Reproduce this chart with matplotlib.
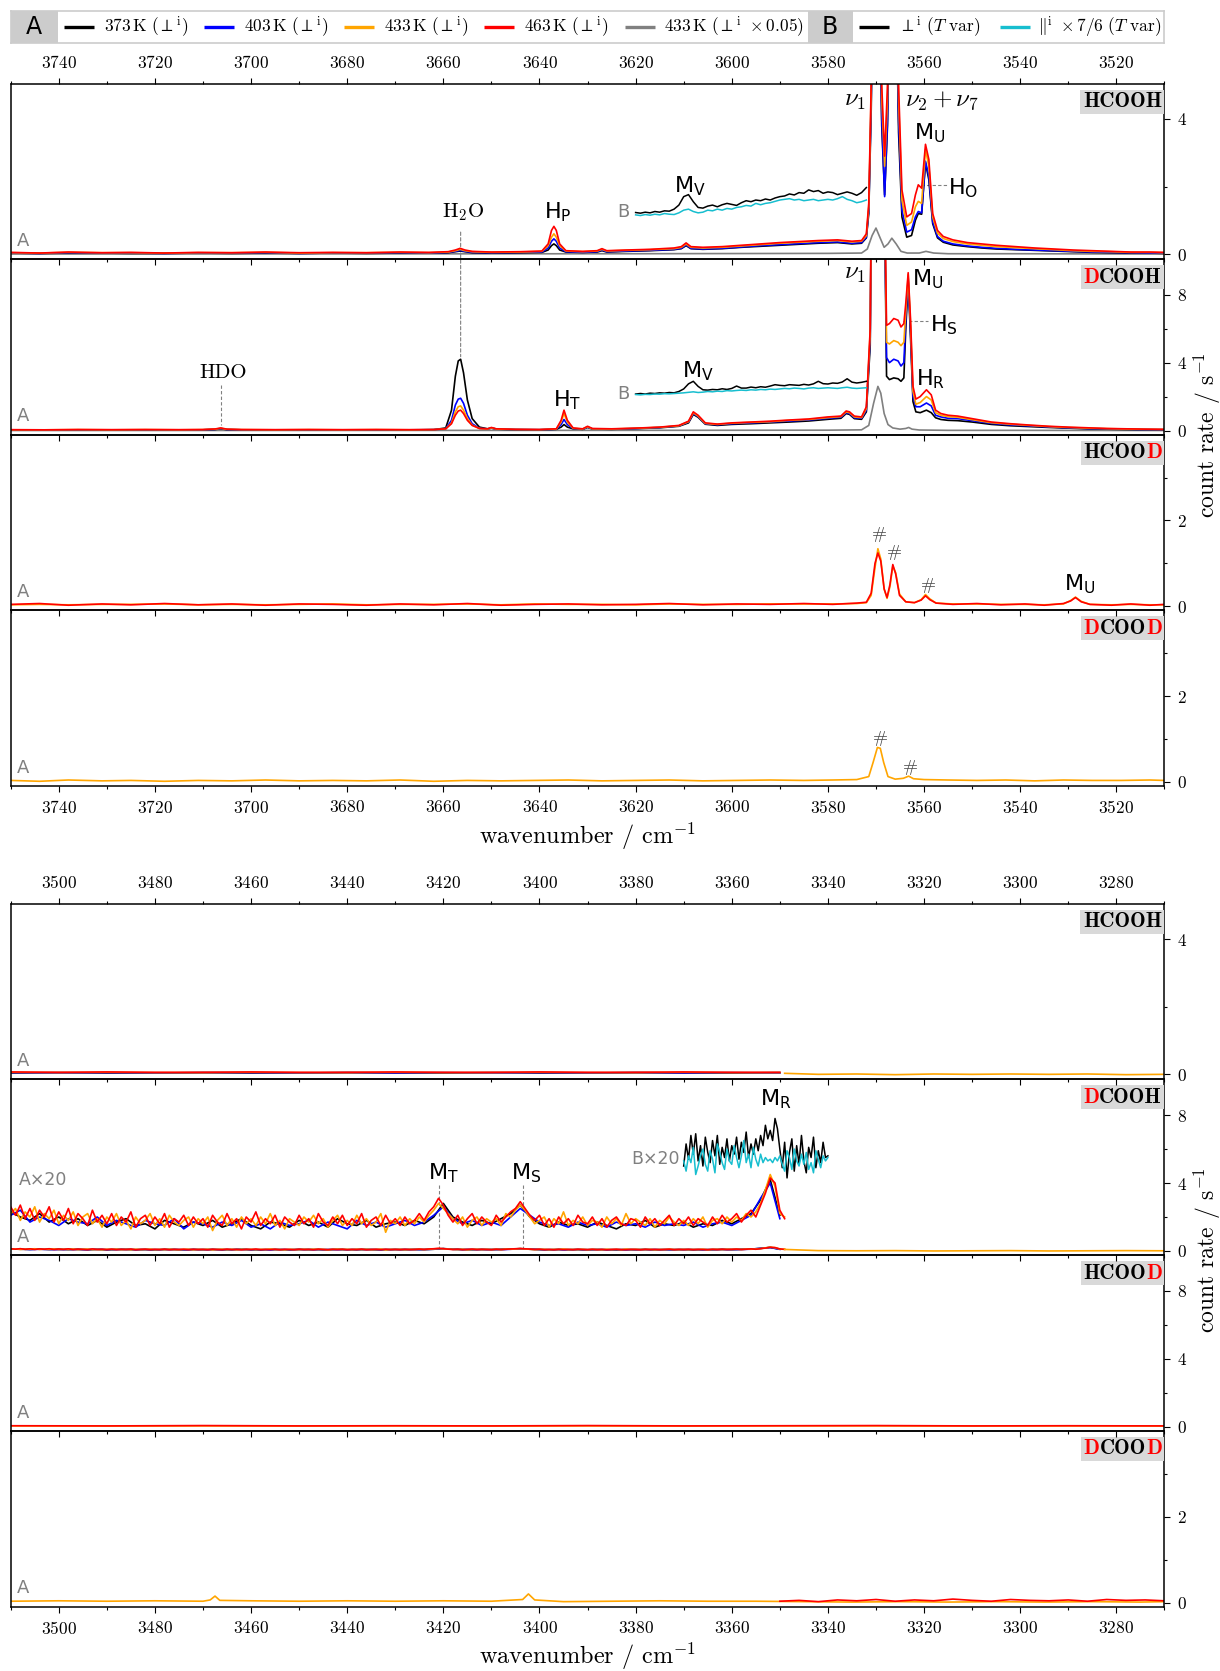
import numpy as np
import matplotlib
matplotlib.use("Agg")
import matplotlib.pyplot as plt
from matplotlib.patches import Rectangle, ConnectionPatch
from matplotlib.ticker import FixedLocator, MultipleLocator
from matplotlib.offsetbox import AnchoredOffsetbox, HPacker, TextArea

plt.rcParams["font.family"] = "cmr10"
plt.rcParams["mathtext.fontset"] = "cm"
plt.rcParams["axes.formatter.use_mathtext"] = True

FIG_W, FIG_H = 1220, 1671

C373 = "#000000"
C403 = "#0000ff"
C433 = "#ffa500"
C463 = "#ff0000"
CGRAY = "#808080"
CPAR = "#17becf"
LW = 1.2

# ---------------- upper range, 3750-3510 cm-1 ----------------
G1_HCOOH_X = [3750, 3744, 3738, 3731, 3725, 3718, 3711, 3704, 3697, 3690,
              3683, 3676, 3669, 3663, 3659, 3657.5, 3656.5, 3655.5, 3654, 3650,
              3644, 3639.5, 3638.2, 3637.5, 3637, 3636.5, 3635.8, 3634.5, 3631, 3628,
              3627, 3626, 3622, 3617, 3612, 3610.5, 3609.5, 3608.5, 3606, 3602,
              3598, 3594, 3590, 3586, 3582, 3578, 3575, 3573, 3572, 3571.5,
              3571, 3570.3, 3569.5, 3568.8, 3568.2, 3567.6, 3567, 3566, 3565.3, 3564.6,
              3563.6, 3562.6, 3561.8, 3561.2, 3560.5, 3559.7, 3559, 3558.2, 3557.2, 3556,
              3554, 3551, 3548, 3545, 3541, 3537, 3533, 3529, 3525, 3521,
              3517, 3513, 3510]
G1_HCOOH_463 = [0.05, 0.03, 0.06, 0.04, 0.05, 0.03, 0.05, 0.04, 0.06, 0.04,
                0.05, 0.04, 0.06, 0.05, 0.07, 0.12, 0.17, 0.12, 0.08, 0.06,
                0.07, 0.09, 0.3, 0.7, 0.82, 0.7, 0.3, 0.1, 0.08, 0.1,
                0.16, 0.1, 0.12, 0.14, 0.18, 0.22, 0.33, 0.22, 0.2, 0.22,
                0.26, 0.3, 0.34, 0.37, 0.4, 0.42, 0.38, 0.4, 0.6, 1.5,
                5.0, 14.0, 12.0, 5.0, 2.9, 5.0, 11.0, 12.0, 5.0, 1.9,
                1.1, 1.2, 1.75, 2.05, 1.95, 3.25, 2.8, 1.2, 0.7, 0.52,
                0.42, 0.34, 0.3, 0.26, 0.22, 0.18, 0.15, 0.12, 0.1, 0.08,
                0.06, 0.06, 0.05]
G1_HCOOH_433 = [0.04, 0.03, 0.05, 0.04, 0.04, 0.03, 0.04, 0.04, 0.05, 0.03,
                0.04, 0.04, 0.05, 0.04, 0.06, 0.1, 0.14, 0.1, 0.07, 0.05,
                0.06, 0.08, 0.25, 0.5, 0.6, 0.5, 0.25, 0.09, 0.07, 0.09,
                0.14, 0.09, 0.11, 0.13, 0.16, 0.2, 0.3, 0.2, 0.18, 0.2,
                0.24, 0.28, 0.32, 0.35, 0.38, 0.4, 0.36, 0.38, 0.55, 1.4,
                4.8, 13.0, 11.0, 4.6, 2.6, 4.6, 10.5, 11.0, 4.6, 1.6,
                0.85, 0.95, 1.4, 1.56, 1.5, 3.1, 2.6, 1.1, 0.62, 0.46,
                0.37, 0.3, 0.26, 0.22, 0.19, 0.16, 0.13, 0.1, 0.08, 0.07,
                0.05, 0.05, 0.04]
G1_HCOOH_403 = [0.03, 0.02, 0.04, 0.03, 0.03, 0.02, 0.03, 0.03, 0.04, 0.02,
                0.03, 0.03, 0.04, 0.03, 0.05, 0.08, 0.11, 0.08, 0.05, 0.04,
                0.05, 0.06, 0.18, 0.38, 0.45, 0.38, 0.18, 0.07, 0.05, 0.07,
                0.12, 0.07, 0.09, 0.11, 0.14, 0.17, 0.27, 0.17, 0.15, 0.17,
                0.21, 0.25, 0.28, 0.31, 0.34, 0.36, 0.32, 0.34, 0.5, 1.3,
                4.5, 12.0, 10.0, 4.0, 1.7, 4.0, 10.0, 10.0, 4.0, 1.3,
                0.65, 0.72, 1.1, 1.26, 1.22, 2.75, 2.3, 0.95, 0.52, 0.38,
                0.3, 0.24, 0.2, 0.17, 0.14, 0.12, 0.1, 0.08, 0.06, 0.05,
                0.04, 0.03, 0.03]
G1_HCOOH_373 = [0.03, 0.02, 0.03, 0.03, 0.02, 0.02, 0.03, 0.02, 0.03, 0.02,
                0.03, 0.02, 0.03, 0.03, 0.04, 0.07, 0.09, 0.07, 0.04, 0.03,
                0.04, 0.05, 0.12, 0.25, 0.3, 0.25, 0.12, 0.06, 0.05, 0.06,
                0.1, 0.06, 0.08, 0.1, 0.13, 0.16, 0.25, 0.16, 0.14, 0.16,
                0.2, 0.23, 0.26, 0.29, 0.32, 0.34, 0.3, 0.32, 0.48, 1.2,
                4.2, 11.0, 9.5, 3.8, 1.75, 3.8, 9.5, 9.5, 3.6, 1.1,
                0.5, 0.55, 1.0, 1.2, 1.18, 2.7, 2.2, 0.9, 0.48, 0.35,
                0.27, 0.22, 0.18, 0.15, 0.13, 0.11, 0.09, 0.07, 0.05, 0.04,
                0.03, 0.03, 0.02]
G1_HCOOH_GRAY_X = [3750, 3620, 3580, 3573, 3571.8, 3570.8, 3570, 3569.2, 3568.3, 3567.5,
                   3566.7, 3565.8, 3564.8, 3563.5, 3561, 3559.6, 3558, 3555, 3540, 3510]
G1_HCOOH_GRAY = [0.0, 0.01, 0.02, 0.03, 0.15, 0.55, 0.77, 0.5, 0.2, 0.3,
                 0.47, 0.3, 0.08, 0.03, 0.03, 0.08, 0.03, 0.01, 0.01, 0.0]

B_X = [3620 - k for k in range(49)]
G1_HCOOH_B_PERP = [1.23, 1.21, 1.24, 1.22, 1.26, 1.24, 1.28, 1.27, 1.33, 1.45,
                   1.7, 1.76, 1.55, 1.38, 1.36, 1.42, 1.45, 1.4, 1.46, 1.5,
                   1.47, 1.44, 1.52, 1.58, 1.55, 1.6, 1.58, 1.63, 1.6, 1.66,
                   1.7, 1.72, 1.78, 1.75, 1.82, 1.8, 1.9, 1.85, 1.88, 1.8,
                   1.84, 1.82, 1.76, 1.8, 1.84, 1.8, 1.74, 1.82, 1.97]
G1_HCOOH_B_PAR = [1.16, 1.14, 1.17, 1.15, 1.18, 1.16, 1.2, 1.18, 1.17, 1.22,
                  1.3, 1.33, 1.26, 1.22, 1.24, 1.3, 1.28, 1.33, 1.3, 1.35,
                  1.33, 1.38, 1.4, 1.44, 1.42, 1.5, 1.46, 1.5, 1.52, 1.56,
                  1.6, 1.62, 1.64, 1.6, 1.62, 1.58, 1.6, 1.62, 1.58, 1.6,
                  1.62, 1.6, 1.64, 1.7, 1.62, 1.58, 1.52, 1.55, 1.6]

G1_DCOOH_X = [3750, 3743, 3736, 3729, 3722, 3715, 3710, 3707.5, 3706.3, 3705,
              3702, 3695, 3688, 3681, 3674, 3667, 3662, 3659.5, 3658.3, 3657.5,
              3656.9, 3656.4, 3655.8, 3655, 3654, 3652.5, 3650.8, 3650, 3649, 3645,
              3640, 3636.5, 3635.5, 3634.9, 3634.2, 3633, 3631, 3630, 3629, 3625,
              3620, 3615, 3611, 3609, 3608, 3607, 3605.5, 3603, 3600, 3596,
              3592, 3588, 3584, 3580, 3577.3, 3576.2, 3575.5, 3574.5, 3573, 3572,
              3571.2, 3570.5, 3569.5, 3568.5, 3567.8, 3567.2, 3566.3, 3565.4, 3564.8, 3564.2,
              3563.8, 3563.3, 3562.8, 3562.3, 3561.7, 3560.8, 3559.5, 3558.5, 3557.6, 3556.5,
              3555, 3553, 3550, 3546, 3542, 3538, 3534, 3530, 3526, 3522,
              3518, 3514, 3510]
G1_DCOOH_463 = [0.05, 0.04, 0.06, 0.05, 0.06, 0.05, 0.06, 0.09, 0.15, 0.08,
                0.06, 0.05, 0.06, 0.05, 0.06, 0.05, 0.06, 0.1, 0.4, 0.9,
                1.15, 1.2, 1.0, 0.6, 0.3, 0.12, 0.1, 0.18, 0.1, 0.07,
                0.06, 0.1, 0.6, 1.2, 0.6, 0.15, 0.1, 0.25, 0.12, 0.1,
                0.14, 0.2, 0.3, 0.55, 1.1, 0.9, 0.45, 0.38, 0.45, 0.5,
                0.55, 0.62, 0.68, 0.8, 0.85, 1.15, 1.1, 0.85, 0.8, 1.4,
                6.0, 30.0, 40.0, 20.0, 6.2, 6.3, 6.6, 6.5, 6.1, 6.3,
                7.5, 9.3, 6.5, 2.6, 1.85, 2.0, 2.4, 2.1, 1.2, 1.0,
                0.9, 0.85, 0.7, 0.5, 0.4, 0.32, 0.25, 0.2, 0.16, 0.12,
                0.1, 0.08, 0.07]
G1_DCOOH_433 = [0.04, 0.04, 0.05, 0.04, 0.05, 0.04, 0.05, 0.08, 0.13, 0.07,
                0.05, 0.04, 0.05, 0.04, 0.05, 0.04, 0.05, 0.1, 0.45, 1.1,
                1.4, 1.45, 1.2, 0.7, 0.32, 0.12, 0.09, 0.16, 0.09, 0.06,
                0.05, 0.09, 0.5, 1.0, 0.5, 0.13, 0.09, 0.22, 0.1, 0.09,
                0.13, 0.19, 0.28, 0.52, 1.05, 0.85, 0.42, 0.36, 0.43, 0.48,
                0.52, 0.6, 0.65, 0.76, 0.82, 1.1, 1.05, 0.8, 0.76, 1.3,
                5.8, 30.0, 40.0, 20.0, 5.2, 5.1, 5.3, 5.2, 5.0, 5.2,
                7.0, 9.2, 6.2, 2.3, 1.55, 1.65, 2.0, 1.8, 1.05, 0.9,
                0.82, 0.78, 0.64, 0.46, 0.37, 0.3, 0.23, 0.18, 0.14, 0.11,
                0.09, 0.07, 0.06]
G1_DCOOH_403 = [0.04, 0.03, 0.04, 0.04, 0.04, 0.03, 0.04, 0.07, 0.12, 0.06,
                0.04, 0.04, 0.04, 0.03, 0.04, 0.04, 0.05, 0.1, 0.6, 1.5,
                1.85, 1.9, 1.6, 0.9, 0.4, 0.13, 0.09, 0.15, 0.09, 0.06,
                0.05, 0.08, 0.35, 0.65, 0.35, 0.12, 0.08, 0.2, 0.1, 0.08,
                0.12, 0.18, 0.27, 0.5, 1.0, 0.82, 0.4, 0.34, 0.4, 0.45,
                0.5, 0.56, 0.62, 0.72, 0.78, 1.05, 1.0, 0.75, 0.72, 1.2,
                5.5, 30.0, 40.0, 20.0, 4.3, 4.0, 4.2, 4.1, 3.8, 4.0,
                6.5, 9.0, 5.8, 2.0, 1.4, 1.4, 1.62, 1.45, 0.9, 0.8,
                0.72, 0.7, 0.58, 0.42, 0.33, 0.27, 0.21, 0.16, 0.12, 0.1,
                0.08, 0.06, 0.05]
G1_DCOOH_373 = [0.03, 0.03, 0.04, 0.03, 0.04, 0.03, 0.04, 0.06, 0.1, 0.05,
                0.04, 0.03, 0.04, 0.03, 0.04, 0.03, 0.05, 0.15, 1.2, 3.2,
                4.1, 4.2, 3.4, 1.8, 0.7, 0.2, 0.1, 0.14, 0.08, 0.05,
                0.04, 0.07, 0.2, 0.35, 0.2, 0.1, 0.07, 0.18, 0.09, 0.07,
                0.11, 0.16, 0.25, 0.45, 0.95, 0.78, 0.37, 0.3, 0.36, 0.4,
                0.45, 0.5, 0.56, 0.66, 0.72, 1.0, 0.95, 0.7, 0.66, 1.1,
                5.0, 30.0, 40.0, 20.0, 3.2, 3.0, 3.1, 3.05, 2.9, 3.1,
                6.0, 8.8, 5.4, 1.7, 1.1, 1.05, 1.2, 1.05, 0.75, 0.65,
                0.6, 0.58, 0.5, 0.36, 0.28, 0.23, 0.18, 0.14, 0.1, 0.08,
                0.06, 0.05, 0.04]
G1_DCOOH_GRAY_X = [3750, 3620, 3580, 3573, 3571.5, 3570.5, 3569.6, 3569, 3568.3, 3567.5,
                   3566.5, 3565, 3563.8, 3563.2, 3562.5, 3561, 3555, 3540, 3510]
G1_DCOOH_GRAY = [0.0, 0.01, 0.02, 0.04, 0.3, 1.6, 2.6, 2.2, 1.0, 0.35,
                 0.15, 0.08, 0.12, 0.18, 0.08, 0.03, 0.01, 0.01, 0.0]
G1_DCOOH_B_PERP = [2.15, 2.18, 2.15, 2.2, 2.18, 2.22, 2.2, 2.24, 2.22, 2.3,
                   2.45, 2.75, 2.9, 2.6, 2.4, 2.38, 2.42, 2.4, 2.46, 2.42,
                   2.48, 2.62, 2.5, 2.5, 2.56, 2.52, 2.58, 2.55, 2.62, 2.7,
                   2.66, 2.64, 2.7, 2.68, 2.66, 2.72, 2.68, 2.75, 2.9, 2.76,
                   2.74, 2.8, 2.78, 2.86, 3.05, 2.85, 2.8, 2.84, 2.9]
G1_DCOOH_B_PAR = [2.12, 2.1, 2.13, 2.12, 2.15, 2.14, 2.17, 2.16, 2.18, 2.2,
                  2.22, 2.25, 2.28, 2.24, 2.26, 2.3, 2.28, 2.32, 2.3, 2.35,
                  2.33, 2.36, 2.38, 2.36, 2.4, 2.38, 2.42, 2.4, 2.44, 2.42,
                  2.45, 2.48, 2.46, 2.5, 2.48, 2.45, 2.5, 2.52, 2.48, 2.5,
                  2.52, 2.5, 2.48, 2.52, 2.55, 2.5, 2.48, 2.5, 2.52]

G1_HCOOD_X = [3750, 3744, 3738, 3731, 3725, 3718, 3711, 3704, 3697, 3690,
              3683, 3676, 3669, 3662, 3655, 3648, 3641, 3634, 3627, 3620,
              3613, 3606, 3599, 3592, 3585, 3579, 3574, 3572, 3571, 3570.2,
              3569.6, 3569, 3568.3, 3567.7, 3567.1, 3566.5, 3565.9, 3565.1, 3563.8, 3562,
              3560.6, 3559.7, 3558.8, 3557.5, 3554, 3549, 3544, 3539, 3535, 3531,
              3529.5, 3528.5, 3527.3, 3525.5, 3521, 3517, 3513, 3510]
G1_HCOOD_463 = [0.04, 0.06, 0.02, 0.05, 0.03, 0.06, 0.03, 0.05, 0.02, 0.05,
                0.04, 0.02, 0.05, 0.03, 0.06, 0.02, 0.04, 0.05, 0.03, 0.04,
                0.06, 0.03, 0.05, 0.04, 0.06, 0.04, 0.07, 0.09, 0.3, 1.0,
                1.24, 1.05, 0.4, 0.2, 0.5, 0.97, 0.75, 0.25, 0.1, 0.08,
                0.14, 0.24, 0.15, 0.07, 0.04, 0.06, 0.03, 0.05, 0.02, 0.06,
                0.12, 0.2, 0.1, 0.04, 0.02, 0.05, 0.02, 0.04]
G1_HCOOD_433 = [0.03, 0.04, 0.03, 0.04, 0.04, 0.05, 0.03, 0.04, 0.03, 0.04,
                0.05, 0.03, 0.04, 0.04, 0.05, 0.03, 0.05, 0.04, 0.04, 0.03,
                0.05, 0.04, 0.04, 0.05, 0.05, 0.05, 0.06, 0.08, 0.25, 0.9,
                1.34, 1.1, 0.4, 0.18, 0.45, 0.93, 0.78, 0.28, 0.1, 0.08,
                0.15, 0.27, 0.17, 0.07, 0.05, 0.05, 0.04, 0.04, 0.03, 0.05,
                0.13, 0.21, 0.11, 0.04, 0.03, 0.04, 0.03, 0.03]

G1_DCOOD_X = [3750, 3744, 3738, 3731, 3725, 3718, 3711, 3704, 3697, 3690,
              3683, 3676, 3669, 3662, 3655, 3648, 3641, 3634, 3627, 3620,
              3613, 3606, 3599, 3592, 3585, 3579, 3574, 3571.5, 3570.6, 3569.7,
              3569.1, 3568.4, 3567.5, 3566, 3564.3, 3563.2, 3562.2, 3560, 3555, 3549,
              3543, 3537, 3531, 3525, 3519, 3513, 3510]
G1_DCOOD_433 = [0.03, 0.01, 0.04, 0.02, 0.03, 0.01, 0.03, 0.02, 0.04, 0.02,
                0.03, 0.02, 0.04, 0.01, 0.03, 0.02, 0.03, 0.04, 0.02, 0.03,
                0.04, 0.02, 0.03, 0.04, 0.03, 0.04, 0.05, 0.12, 0.45, 0.8,
                0.78, 0.45, 0.12, 0.06, 0.08, 0.13, 0.07, 0.05, 0.04, 0.03,
                0.04, 0.02, 0.04, 0.03, 0.03, 0.04, 0.03]

# ---------------- lower range, 3510-3270 cm-1 ----------------
G2_X = [3510, 3500, 3490, 3480, 3470, 3460, 3450, 3440, 3430, 3420,
        3410, 3400, 3390, 3380, 3370, 3360, 3350]
G2_HCOOH_463 = [0.07, 0.06, 0.07, 0.06, 0.06, 0.07, 0.06, 0.06, 0.07, 0.06,
                0.06, 0.07, 0.06, 0.06, 0.07, 0.06, 0.06]
G2_HCOOH_433 = [0.06, 0.05, 0.06, 0.05, 0.05, 0.06, 0.05, 0.05, 0.06, 0.05,
                0.05, 0.06, 0.05, 0.05, 0.06, 0.05, 0.05]
G2_HCOOH_403 = [0.05, 0.04, 0.05, 0.04, 0.05, 0.05, 0.04, 0.05, 0.04, 0.05,
                0.04, 0.05, 0.04, 0.05, 0.04, 0.05, 0.04]
G2_HCOOH_373 = [0.04, 0.05, 0.04, 0.04, 0.05, 0.04, 0.04, 0.05, 0.04, 0.04,
                0.05, 0.04, 0.04, 0.05, 0.04, 0.04, 0.05]
G2_TAIL_X = [3349, 3342, 3334, 3326, 3318, 3310, 3302, 3294, 3286, 3278, 3270]
G2_HCOOH_433_TAIL = [0.03, 0.0, 0.01, -0.01, 0.01, 0.0, 0.01, 0.0, 0.01, -0.01, 0.0]
G2_DCOOH_433_TAIL = [0.09, 0.02, 0.01, 0.02, 0.0, 0.01, 0.02, 0.0, 0.01, 0.02, 0.01]

# DCOOH, A spectra times 20 (1 cm-1 and 2 cm-1 sampling)
X20_FINE = list(range(3510, 3348, -1))
X20_COARSE = list(range(3510, 3349, -2))
G2_DCOOH_463_X20 = [2.6, 2.1, 2.7, 1.9, 2.5, 1.8, 2.4, 2.0, 2.6, 1.7,
                    2.3, 1.8, 2.5, 1.6, 2.2, 1.9, 1.5, 2.4, 1.7, 2.1,
                    1.6, 2.2, 1.5, 2.0, 1.7, 2.3, 1.4, 1.9, 2.1, 1.5,
                    2.0, 1.6, 2.2, 1.4, 1.9, 1.7, 2.1, 1.5, 2.0, 1.6,
                    1.9, 1.4, 2.1, 1.7, 1.5, 2.2, 1.6, 1.9, 1.3, 2.0,
                    1.7, 2.3, 1.5, 1.9, 1.6, 2.1, 1.4, 2.0, 1.7, 1.5,
                    2.1, 1.6, 1.9, 1.4, 2.2, 1.7, 1.5, 2.0, 1.6, 2.1,
                    1.5, 1.9, 1.6, 2.2, 1.4, 1.8, 2.0, 1.5, 2.1, 1.6,
                    1.9, 1.5, 2.0, 1.6, 1.8, 2.2, 1.8, 2.3, 2.6, 3.1,
                    2.7, 2.1, 1.7, 2.1, 1.5, 1.9, 2.2, 1.6, 2.0, 1.7,
                    1.5, 2.1, 1.7, 2.0, 2.3, 2.5, 2.9, 2.5, 2.1, 1.8,
                    2.1, 1.5, 1.9, 1.4, 2.0, 1.6, 1.9, 1.5, 2.1, 1.7,
                    1.6, 2.0, 1.5, 1.9, 1.4, 1.8, 2.0, 1.6, 1.5, 1.9,
                    1.8, 1.4, 2.0, 1.6, 1.9, 1.5, 1.8, 2.1, 1.5, 1.9,
                    1.6, 2.0, 1.5, 1.9, 1.7, 1.5, 2.0, 1.6, 2.1, 1.7,
                    1.9, 2.2, 1.7, 2.1, 2.4, 2.0, 2.7, 3.4, 4.3, 4.0,
                    2.4, 1.9]
G2_DCOOH_433_X20 = [2.2, 2.5, 1.8, 2.3, 2.0, 2.6, 1.7, 2.2, 1.9, 2.4,
                    1.6, 2.1, 1.8, 2.3, 1.5, 2.0, 2.2, 1.6, 1.9, 1.4,
                    2.0, 1.7, 2.2, 1.5, 1.8, 1.3, 2.0, 1.6, 1.8, 2.2,
                    1.5, 1.9, 1.4, 2.1, 1.7, 1.5, 1.8, 2.0, 1.4, 1.9,
                    1.6, 2.0, 1.2, 1.8, 2.1, 1.5, 1.9, 1.4, 2.0, 1.6,
                    1.9, 1.5, 2.0, 1.6, 2.2, 1.5, 1.8, 1.3, 1.9, 1.7,
                    1.5, 2.0, 1.7, 2.1, 1.6, 1.9, 1.4, 1.8, 2.1, 1.5,
                    1.8, 1.5, 2.1, 1.6, 1.9, 1.5, 1.7, 2.2, 1.1, 1.8,
                    1.6, 2.0, 1.5, 1.9, 1.6, 2.0, 1.7, 2.1, 2.4, 2.8,
                    2.5, 2.2, 1.9, 1.6, 2.0, 1.4, 1.8, 2.0, 1.5, 1.9,
                    1.7, 1.9, 1.5, 2.2, 2.0, 2.4, 2.7, 2.4, 2.0, 1.6,
                    1.8, 2.0, 1.4, 1.9, 1.6, 2.3, 1.5, 1.8, 1.6, 2.0,
                    1.5, 1.8, 1.7, 1.4, 2.0, 1.6, 1.9, 1.5, 2.2, 1.6,
                    1.9, 1.7, 1.5, 1.9, 1.4, 1.8, 1.6, 2.0, 1.7, 1.5,
                    1.8, 1.5, 1.9, 1.6, 2.0, 1.4, 1.8, 1.9, 1.6, 2.0,
                    1.7, 2.0, 1.8, 2.2, 2.0, 2.3, 2.8, 3.6, 4.5, 3.8,
                    2.2, 2.0]
G2_DCOOH_403_X20 = [2.1, 2.4, 1.7, 2.0, 1.8, 1.5, 1.9, 1.7, 1.6, 2.0,
                    1.5, 1.8, 1.6, 1.4, 1.8, 1.6, 1.5, 1.9, 1.3, 1.7,
                    1.6, 1.4, 1.7, 1.5, 1.8, 1.4, 1.6, 1.3, 1.7, 1.5,
                    1.6, 1.8, 1.4, 1.7, 1.5, 1.3, 1.8, 1.5, 1.7, 1.4,
                    1.6, 1.8, 1.5, 1.7, 2.1, 2.6, 1.9, 1.6, 1.8, 1.5,
                    1.7, 1.5, 2.0, 2.5, 2.1, 1.7, 1.5, 1.6, 1.4, 1.7,
                    1.5, 1.6, 1.4, 1.7, 1.5, 1.6, 1.4, 1.7, 1.5, 1.6,
                    1.5, 1.7, 1.4, 1.6, 1.7, 1.5, 1.8, 2.1, 3.1, 4.0,
                    1.9]
G2_DCOOH_373_X20 = [2.3, 2.0, 1.8, 2.2, 1.7, 2.0, 1.6, 1.9, 1.5, 1.8,
                    1.4, 1.7, 1.9, 1.5, 1.6, 1.3, 1.8, 1.6, 1.4, 1.7,
                    1.5, 1.8, 1.4, 1.6, 1.9, 1.5, 1.3, 1.7, 1.6, 1.4,
                    1.8, 1.5, 1.7, 1.4, 1.9, 1.6, 1.5, 1.8, 1.4, 1.6,
                    1.7, 1.5, 1.8, 1.6, 2.0, 2.8, 2.0, 1.7, 1.5, 1.8,
                    1.6, 1.9, 2.2, 2.7, 2.0, 1.6, 1.4, 1.7, 1.5, 1.6,
                    1.4, 1.7, 1.5, 1.3, 1.6, 1.5, 1.8, 1.4, 1.6, 1.5,
                    1.7, 1.4, 1.6, 1.5, 1.8, 1.6, 1.9, 2.2, 3.0, 4.2,
                    2.1]

# DCOOH, B spectra times 20 (0.5 cm-1 sampling)
B20_X = [3370 - 0.5 * k for k in range(61)]
G2_DCOOH_B20_PERP = [5.0, 6.3, 5.4, 6.8, 5.7, 6.9, 5.3, 6.2, 5.0, 6.7,
                     5.8, 5.2, 6.5, 5.6, 6.8, 5.1, 6.1, 5.5, 6.6, 5.3,
                     6.2, 5.7, 6.7, 5.4, 6.4, 5.8, 7.0, 5.5, 6.3, 5.7,
                     6.6, 5.9, 6.8, 6.2, 7.4, 6.6, 7.1, 6.5, 7.8, 7.2,
                     6.0, 4.9, 6.4, 4.3, 5.8, 6.6, 4.7, 6.2, 5.1, 6.8,
                     5.3, 4.6, 6.1, 5.5, 6.7, 4.9, 5.9, 5.2, 6.4, 5.5,
                     5.6]
G2_DCOOH_B20_PAR = [5.3, 4.7, 5.6, 5.2, 6.1, 4.5, 5.0, 5.6, 6.0, 5.1,
                    4.7, 5.9, 5.4, 4.6, 6.3, 5.8, 5.2, 4.8, 6.0, 5.3,
                    5.1, 6.2, 5.5, 4.9, 5.6, 6.5, 5.2, 5.7, 4.9, 6.1,
                    5.4, 5.0, 5.7, 5.2, 5.5, 5.3, 5.4, 5.2, 5.5, 5.3,
                    5.6, 5.1, 4.7, 5.9, 5.5, 4.8, 6.0, 5.3, 5.0, 5.7,
                    5.1, 5.8, 4.8, 5.2, 4.6, 5.9, 5.4, 4.9, 5.6, 5.3,
                    5.5]

G2_HCOOD_X = [3510, 3490, 3470, 3450, 3430, 3410, 3390, 3370, 3350, 3330, 3310, 3290, 3270]
G2_HCOOD_463 = [0.06, 0.05, 0.07, 0.05, 0.06, 0.05, 0.07, 0.05, 0.06, 0.07, 0.05, 0.06, 0.05]
G2_HCOOD_433 = [0.05, 0.04, 0.05, 0.04, 0.05, 0.04, 0.05, 0.04, 0.05, 0.05, 0.04, 0.05, 0.04]

G2_DCOOD_433_X = [3510, 3500, 3490, 3480, 3470, 3468.5, 3467.5, 3466.5, 3460, 3450,
                  3440, 3430, 3420, 3410, 3403.5, 3402.3, 3401, 3395, 3385, 3375,
                  3365, 3355, 3345, 3335, 3325, 3315, 3305, 3295, 3285, 3275, 3270]
G2_DCOOD_433 = [0.03, 0.04, 0.03, 0.04, 0.03, 0.06, 0.15, 0.05, 0.04, 0.03,
                0.04, 0.03, 0.04, 0.03, 0.07, 0.2, 0.06, 0.02, 0.03, 0.04,
                0.03, 0.03, 0.02, 0.01, 0.02, 0.01, 0.02, 0.01, 0.02, 0.01, 0.02]
G2_DCOOD_463_X = [3350, 3346, 3342, 3338, 3334, 3330, 3326, 3322, 3318, 3314, 3310,
                  3306, 3302, 3298, 3294, 3290, 3286, 3282, 3278, 3274, 3270]
G2_DCOOD_463 = [0.03, 0.05, 0.02, 0.06, 0.04, 0.07, 0.03, 0.06, 0.04, 0.08, 0.05,
                0.03, 0.07, 0.05, 0.04, 0.06, 0.03, 0.07, 0.05, 0.06, 0.04]

LEGEND_A = [r"$373\,\mathrm{K}\ ({\perp}^{\mathrm{i}})$", r"$403\,\mathrm{K}\ ({\perp}^{\mathrm{i}})$",
            r"$433\,\mathrm{K}\ ({\perp}^{\mathrm{i}})$", r"$463\,\mathrm{K}\ ({\perp}^{\mathrm{i}})$",
            r"$433\,\mathrm{K}\ ({\perp}^{\mathrm{i}}\ \times 0.05)$"]
LEGEND_B = [r"${\perp}^{\mathrm{i}}\ (T\ \mathrm{var})$", r"${\|}^{\mathrm{i}}\ \times 7/6\ (T\ \mathrm{var})$"]


def px_rect(x0, y0, x1, y1):
    return [x0 / FIG_W, 1 - y1 / FIG_H, (x1 - x0) / FIG_W, (y1 - y0) / FIG_H]


def setup_panel(ax, xlim, ylim, major, minor, top=False, bottom=False):
    ax.set_facecolor("none")
    ax.set_xlim(*xlim)
    ax.set_ylim(*ylim)
    ax.xaxis.set_major_locator(MultipleLocator(20))
    ax.xaxis.set_minor_locator(MultipleLocator(10))
    ax.yaxis.set_major_locator(FixedLocator(major))
    ax.yaxis.set_minor_locator(FixedLocator(minor))
    ax.yaxis.tick_right()
    ax.tick_params(axis="y", which="both", direction="out", left=False, right=True,
                   labelleft=False, labelright=True, labelsize=12.5, pad=5, width=0.8)
    ax.tick_params(axis="x", which="both", direction="out", bottom=True, top=top,
                   labelbottom=bottom, labeltop=top, labelsize=12.5, pad=5, width=0.8)
    ax.tick_params(which="major", length=4.3)
    ax.tick_params(which="minor", length=2.4)
    for s in ax.spines.values():
        s.set_linewidth(1.1)


def sans(ax, x, y, s, size=16, **kw):
    ax.text(x, y, s, family="DejaVu Sans", math_fontfamily="dejavusans", size=size,
            ha=kw.pop("ha", "center"), va=kw.pop("va", "center"), **kw)


def a_label(ax):
    ax.text(0.005, 0.105, "A", transform=ax.transAxes, family="DejaVu Sans", size=13,
            color=CGRAY, ha="left", va="center")


def dashed(ax, xs, ys):
    ax.plot(xs, ys, color=CGRAY, lw=0.8, ls=(0, (3, 2)), zorder=1)


def add_tag(ax, word):
    # bold molecule name in a grey box, deuterium positions in red
    runs = []
    body = word
    if body.startswith("D"):
        runs.append(("D", C463))
        body = body[1:]
    tail = body.endswith("D")
    if tail:
        body = body[:-1]
    runs.append((body, "black"))
    if tail:
        runs.append(("D", C463))
    kids = [TextArea(s, textprops=dict(color=c, family="cmb10", size=15)) for s, c in runs]
    pack = HPacker(children=kids, align="baseline", pad=0, sep=0)
    frac = 6 / (ax.get_position().height * FIG_H)
    box = AnchoredOffsetbox(loc="upper right", child=pack, pad=0.12, borderpad=0,
                            frameon=True, bbox_to_anchor=(1, 1 - frac),
                            bbox_transform=ax.transAxes, prop=dict(size=15))
    box.patch.set_facecolor("#d9d9d9")
    box.patch.set_edgecolor("none")
    box.set_zorder(6)
    ax.add_artist(box)


fig = plt.figure(figsize=(FIG_W / 100, FIG_H / 100), dpi=100)

YL_5 = ((-0.15, 5.05), [0, 4], [2])
YL_10 = ((-0.25, 10.1), [0, 4, 8], [2, 6])
YL_4 = ((-0.1, 4.0), [0, 2], [1, 3])

tags = ["HCOOH", "DCOOH", "HCOOD", "DCOOD"]
groups = []
for g, (top_px, step, xlim, ylims) in enumerate([
        (83.5, 175.625, (3750, 3510), [YL_5, YL_10, YL_4, YL_4]),
        (903.6, 175.8, (3510, 3270), [YL_5, YL_10, YL_10, YL_4])]):
    axes = []
    for i in range(4):
        y0 = top_px + i * step
        ax = fig.add_axes(px_rect(10.7, y0, 1164.4, y0 + step))
        ax.set_zorder(10 - i)
        yl, mj, mn = ylims[i]
        setup_panel(ax, xlim, yl, mj, mn, top=(i == 0), bottom=(i == 3))
        add_tag(ax, tags[i])
        axes.append(ax)
    groups.append(axes)

# ---- upper range ----
a1, a2, a3, a4 = groups[0]
a1.plot(G1_HCOOH_GRAY_X, G1_HCOOH_GRAY, color=CGRAY, lw=LW)
for y, c in [(G1_HCOOH_373, C373), (G1_HCOOH_403, C403), (G1_HCOOH_433, C433), (G1_HCOOH_463, C463)]:
    a1.plot(G1_HCOOH_X, y, color=c, lw=LW)
a1.plot(B_X, G1_HCOOH_B_PERP, color=C373, lw=1.1)
a1.plot(B_X, G1_HCOOH_B_PAR, color=CPAR, lw=1.1)
a_label(a1)
a1.text(3655.9, 1.25, r"H$_2$O", size=15, ha="center", va="center")
sans(a1, 3636.1, 1.25, r"H$_\mathregular{P}$")
sans(a1, 3622.6, 1.24, "B", size=13, color=CGRAY)
sans(a1, 3608.6, 2.02, r"M$_\mathregular{V}$")
a1.text(3574.4, 4.54, r"$\nu_1$", size=18, ha="center", va="center")
a1.text(3556.2, 4.54, r"$\nu_2 + \nu_7$", size=18, ha="center", va="center")
sans(a1, 3558.8, 3.57, r"M$_\mathregular{U}$")
dashed(a1, [3560.7, 3555.3], [2.05, 2.05])
sans(a1, 3555.0, 1.95, r"H$_\mathregular{O}$", ha="left")

a2.plot(G1_DCOOH_GRAY_X, G1_DCOOH_GRAY, color=CGRAY, lw=LW)
for y, c in [(G1_DCOOH_373, C373), (G1_DCOOH_403, C403), (G1_DCOOH_433, C433), (G1_DCOOH_463, C463)]:
    a2.plot(G1_DCOOH_X, y, color=c, lw=LW)
a2.plot(B_X, G1_DCOOH_B_PERP, color=C373, lw=1.1)
a2.plot(B_X, G1_DCOOH_B_PAR, color=CPAR, lw=1.1)
a_label(a2)
a2.text(3705.9, 3.4, "HDO", size=15, ha="center", va="center")
dashed(a2, [3706.2, 3706.2], [2.7, 0.3])
sans(a2, 3634.2, 1.8, r"H$_\mathregular{T}$")
sans(a2, 3622.6, 2.15, "B", size=13, color=CGRAY)
sans(a2, 3607.0, 3.5, r"M$_\mathregular{V}$")
a2.text(3574.4, 9.2, r"$\nu_1$", size=18, ha="center", va="center")
sans(a2, 3559.2, 8.9, r"M$_\mathregular{U}$")
dashed(a2, [3564.4, 3559.2], [6.45, 6.45])
sans(a2, 3558.8, 6.2, r"H$_\mathregular{S}$", ha="left")
sans(a2, 3558.7, 3.05, r"H$_\mathregular{R}$")

fig.add_artist(ConnectionPatch(xyA=(3656.4, 0.65), coordsA=a1.transData,
                               xyB=(3656.4, 4.35), coordsB=a2.transData,
                               color=CGRAY, lw=0.8, ls=(0, (3, 2)), zorder=1))

a3.plot(G1_HCOOD_X, G1_HCOOD_433, color=C433, lw=LW)
a3.plot(G1_HCOOD_X, G1_HCOOD_463, color=C463, lw=LW)
a_label(a3)
for x, y in [(3569.4, 1.67), (3566.3, 1.24), (3559.1, 0.48)]:
    a3.text(x, y, r"$\#$", size=13, ha="center", va="center", color="#404040")
sans(a3, 3527.7, 0.5, r"M$_\mathregular{U}$")

a4.plot(G1_DCOOD_X, G1_DCOOD_433, color=C433, lw=LW)
a_label(a4)
for x, y in [(3569.2, 1.0), (3562.9, 0.33)]:
    a4.text(x, y, r"$\#$", size=13, ha="center", va="center", color="#404040")

# ---- lower range ----
b1, b2, b3, b4 = groups[1]
for y, c in [(G2_HCOOH_373, C373), (G2_HCOOH_403, C403), (G2_HCOOH_433, C433), (G2_HCOOH_463, C463)]:
    b1.plot(G2_X, y, color=c, lw=LW)
b1.plot(G2_TAIL_X, G2_HCOOH_433_TAIL, color=C433, lw=LW)
a_label(b1)

dashed(b2, [3420.8, 3420.8], [3.9, 0.0])
dashed(b2, [3403.5, 3403.5], [3.9, 0.0])
for xx, y, c in [(X20_COARSE, G2_DCOOH_373_X20, C373), (X20_COARSE, G2_DCOOH_403_X20, C403),
                 (X20_FINE, G2_DCOOH_433_X20, C433), (X20_FINE, G2_DCOOH_463_X20, C463)]:
    b2.plot(xx, np.array(y) / 20, color=c, lw=LW)
    b2.plot(xx, y, color=c, lw=LW)
b2.plot(G2_TAIL_X, G2_DCOOH_433_TAIL, color=C433, lw=LW)
b2.plot(B20_X, G2_DCOOH_B20_PERP, color=C373, lw=1.1)
b2.plot(B20_X, G2_DCOOH_B20_PAR, color=CPAR, lw=1.1)
a_label(b2)
sans(b2, 3508.3, 4.2, "A×20", size=12.5, color=CGRAY, ha="left")
sans(b2, 3370.8, 5.4, "B×20", size=12.5, color=CGRAY, ha="right")
sans(b2, 3420.0, 4.6, r"M$_\mathregular{T}$")
sans(b2, 3402.7, 4.6, r"M$_\mathregular{S}$")
sans(b2, 3350.8, 8.95, r"M$_\mathregular{R}$")

b3.plot(G2_HCOOD_X, G2_HCOOD_433, color=C433, lw=LW)
b3.plot(G2_HCOOD_X, G2_HCOOD_463, color=C463, lw=LW)
a_label(b3)

b4.plot(G2_DCOOD_433_X, G2_DCOOD_433, color=C433, lw=LW)
b4.plot(G2_DCOOD_463_X, G2_DCOOD_463, color=C463, lw=LW)
a_label(b4)

for g in range(2):
    fig.text(1207 / FIG_W, 1 - (435 if g == 0 else 1250) / FIG_H, r"count rate / s$^{-1}$",
             rotation=90, ha="center", va="center", size=17)
    fig.text(587.5 / FIG_W, 1 - (836 if g == 0 else 1656) / FIG_H, r"wavenumber / cm$^{-1}$",
             ha="center", va="center", size=17.5)

# legend strip
lg = fig.add_axes(px_rect(10.7, 11, 1164.4, 43))
lg.set_zorder(20)
lg.set_xlim(10.7, 1164.4)
lg.set_ylim(43, 11)
lg.set_xticks([])
lg.set_yticks([])
for s in lg.spines.values():
    s.set_color("#cccccc")
    s.set_linewidth(1.2)
lg.add_patch(Rectangle((10.7, 11), 47.3, 32, fc="#cccccc", ec="none"))
lg.add_patch(Rectangle((807.5, 11), 45.5, 32, fc="#cccccc", ec="none"))
lg.text(34, 27.5, "A", family="DejaVu Sans", size=17, ha="center", va="center")
lg.text(830, 27.5, "B", family="DejaVu Sans", size=17, ha="center", va="center")
for x0, lab, c in zip([64, 204, 344, 484, 624.5], LEGEND_A, [C373, C403, C433, C463, CGRAY]):
    lg.plot([x0, x0 + 30], [27, 27], color=c, lw=2.4, solid_capstyle="butt")
    lg.text(x0 + 39.5, 27, lab, size=12.5, ha="left", va="center")
for x0, lab, c in zip([859, 1000], LEGEND_B, [C373, CPAR]):
    lg.plot([x0, x0 + 29.5], [27, 27], color=c, lw=2.4, solid_capstyle="butt")
    lg.text(x0 + 38.5, 27, lab, size=12.5, ha="left", va="center")

fig.savefig("out.png", dpi=100)
